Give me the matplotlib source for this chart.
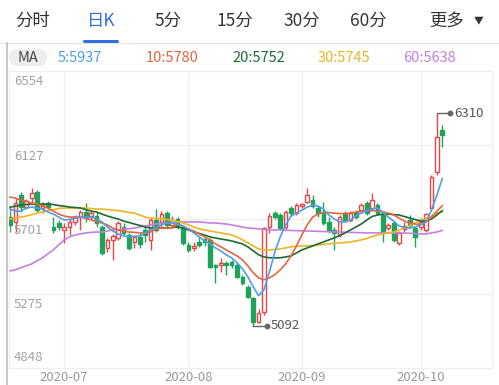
import numpy as np
import pandas as pd
import matplotlib
matplotlib.use("Agg")
import matplotlib.pyplot as plt
from matplotlib.patches import FancyBboxPatch
from matplotlib.transforms import blended_transform_factory

plt.rcParams["font.family"] = ["Noto Sans CJK SC", "DejaVu Sans"]

# ---- data ----
holidays = ["2020-06-25", "2020-06-26", "2020-10-01", "2020-10-02", "2020-10-05",
            "2020-10-06", "2020-10-07", "2020-10-08"]
dates = pd.bdate_range("2020-06-15", "2020-10-15")
dates = dates[~dates.isin(pd.to_datetime(holidays))]

opens = [5717, 5687, 5841, 5772, 5824, 5858, 5767, 5795, 5658, 5681,
         5641, 5658, 5687, 5715, 5744, 5721, 5721, 5658, 5538, 5584,
         5595, 5658, 5612, 5572, 5601, 5641, 5584, 5698, 5687, 5738,
         5670, 5704, 5658, 5555, 5538, 5572, 5589, 5584, 5441, 5441,
         5452, 5458, 5441, 5372, 5315, 5252, 5115, 5172, 5658, 5738,
         5727, 5658, 5767, 5738, 5778, 5801, 5812, 5767, 5744, 5687,
         5641, 5612, 5738, 5698, 5744, 5755, 5795, 5767, 5784, 5727,
         5652, 5681, 5567, 5647, 5698, 5652, 5658, 5641, 5767, 5973, 6213]
highs = [5772, 5824, 5858, 5818, 5881, 5870, 5801, 5807, 5715, 5698,
         5681, 5709, 5727, 5755, 5795, 5755, 5744, 5670, 5595, 5618,
         5692, 5681, 5624, 5612, 5624, 5664, 5709, 5761, 5749, 5749,
         5721, 5715, 5670, 5572, 5572, 5601, 5595, 5595, 5446, 5481,
         5464, 5469, 5458, 5384, 5326, 5258, 5189, 5658, 5738, 5749,
         5738, 5755, 5778, 5795, 5795, 5881, 5841, 5778, 5801, 5715,
         5658, 5727, 5749, 5749, 5755, 5795, 5807, 5852, 5795, 5738,
         5681, 5692, 5635, 5687, 5727, 5658, 5709, 5738, 5955, 6310, 6241]
lows = [5629, 5629, 5744, 5761, 5784, 5744, 5738, 5761, 5624, 5641,
        5567, 5612, 5670, 5641, 5687, 5698, 5658, 5498, 5515, 5469,
        5584, 5612, 5526, 5538, 5538, 5572, 5526, 5629, 5658, 5652,
        5652, 5647, 5555, 5515, 5521, 5544, 5549, 5424, 5338, 5401,
        5384, 5424, 5366, 5326, 5252, 5092, 5109, 5155, 5624, 5704,
        5641, 5647, 5721, 5727, 5767, 5795, 5767, 5715, 5670, 5624,
        5526, 5601, 5687, 5687, 5704, 5738, 5727, 5755, 5727, 5572,
        5641, 5572, 5555, 5629, 5658, 5544, 5641, 5629, 5755, 5955, 6115]
closes = [5670, 5795, 5772, 5807, 5852, 5755, 5784, 5772, 5641, 5658,
          5658, 5687, 5715, 5744, 5709, 5738, 5681, 5509, 5584, 5607,
          5681, 5624, 5538, 5601, 5561, 5612, 5698, 5641, 5732, 5670,
          5698, 5658, 5567, 5526, 5549, 5555, 5572, 5429, 5429, 5452,
          5441, 5441, 5372, 5338, 5258, 5115, 5166, 5652, 5721, 5715,
          5652, 5744, 5738, 5784, 5790, 5841, 5778, 5738, 5681, 5641,
          5624, 5715, 5698, 5738, 5715, 5784, 5738, 5812, 5738, 5629,
          5670, 5584, 5624, 5664, 5670, 5601, 5687, 5732, 5944, 6173, 6184]

ma5 = [5761, 5749, 5749, 5767, 5772, 5767, 5761, 5744, 5732, 5715,
       5698, 5701, 5707, 5715, 5715, 5715, 5704, 5687, 5658, 5635,
       5618, 5607, 5601, 5604, 5607, 5624, 5641, 5655, 5670, 5681,
       5681, 5675, 5664, 5647, 5624, 5601, 5578, 5561, 5538, 5521,
       5498, 5481, 5452, 5418, 5372, 5315, 5263, 5298, 5401, 5515,
       5601, 5670, 5721, 5738, 5755, 5772, 5784, 5778, 5761, 5727,
       5704, 5687, 5687, 5698, 5721, 5738, 5752, 5761, 5767, 5744,
       5715, 5692, 5664, 5655, 5652, 5658, 5670, 5687, 5755, 5841, 5937]
ma10 = [5830, 5824, 5812, 5807, 5795, 5790, 5778, 5767, 5749, 5732,
        5721, 5715, 5715, 5715, 5709, 5698, 5689, 5681, 5670, 5652,
        5641, 5635, 5629, 5627, 5624, 5624, 5629, 5647, 5652, 5652,
        5655, 5675, 5664, 5647, 5635, 5618, 5601, 5584, 5561, 5544,
        5526, 5509, 5492, 5469, 5435, 5395, 5366, 5355, 5366, 5384,
        5412, 5446, 5492, 5549, 5612, 5670, 5715, 5732, 5741, 5741,
        5738, 5735, 5735, 5738, 5744, 5749, 5752, 5752, 5749, 5744,
        5738, 5727, 5709, 5692, 5681, 5675, 5672, 5687, 5715, 5749, 5780]
ma20 = [5772, 5778, 5784, 5787, 5790, 5790, 5790, 5790, 5787, 5781,
        5778, 5772, 5770, 5767, 5758, 5749, 5744, 5732, 5721, 5712,
        5704, 5692, 5684, 5675, 5667, 5658, 5652, 5652, 5652, 5652,
        5655, 5658, 5652, 5641, 5629, 5621, 5612, 5601, 5595, 5589,
        5584, 5578, 5569, 5561, 5544, 5521, 5498, 5486, 5481, 5481,
        5481, 5486, 5492, 5509, 5526, 5538, 5549, 5561, 5572, 5584,
        5595, 5609, 5624, 5641, 5658, 5675, 5698, 5718, 5727, 5732,
        5732, 5729, 5727, 5718, 5709, 5701, 5692, 5692, 5704, 5727, 5752]
ma30 = [5704, 5709, 5715, 5721, 5729, 5738, 5744, 5752, 5758, 5764,
        5767, 5767, 5767, 5767, 5767, 5764, 5761, 5761, 5758, 5755,
        5752, 5747, 5741, 5738, 5727, 5715, 5709, 5707, 5704, 5701,
        5695, 5689, 5681, 5670, 5658, 5647, 5641, 5635, 5629, 5624,
        5618, 5612, 5601, 5584, 5567, 5549, 5532, 5526, 5526, 5529,
        5532, 5538, 5544, 5547, 5549, 5549, 5552, 5555, 5558, 5561,
        5564, 5567, 5569, 5572, 5578, 5584, 5592, 5604, 5612, 5618,
        5624, 5629, 5641, 5652, 5667, 5681, 5698, 5707, 5721, 5738, 5745]
ma60 = [5406, 5412, 5424, 5435, 5446, 5464, 5481, 5504, 5527, 5555,
        5584, 5601, 5612, 5618, 5624, 5627, 5629, 5629, 5635, 5641,
        5641, 5647, 5647, 5652, 5658, 5664, 5670, 5675, 5678, 5681,
        5684, 5687, 5687, 5687, 5687, 5687, 5684, 5681, 5681, 5678,
        5675, 5670, 5664, 5658, 5652, 5650, 5647, 5644, 5641, 5641,
        5641, 5640, 5638, 5637, 5636, 5635, 5634, 5633, 5632, 5631,
        5630, 5629, 5628, 5627, 5626, 5625, 5624, 5624, 5624, 5624,
        5624, 5624, 5624, 5623, 5622, 5620, 5618, 5618, 5624, 5629, 5638]

ma_names = ["5", "10", "20", "30", "60"]
ma_colors = ["#4f9fe6", "#e8643f", "#1d6b34", "#efb51f", "#c57fe0"]
y_ticks = [4848, 5275, 5701, 6127, 6554]
tabs = ["分时", "日K", "5分", "15分", "30分", "60分", "更多"]

UP, DOWN = "#e2474c", "#1fa25a"

# ---- figure ----
W, H = 499, 385
fig = plt.figure(figsize=(W / 100, H / 100), dpi=100)

# pixel overlay for the header
ov = fig.add_axes([0, 0, 1, 1], zorder=0)
ov.set_xlim(0, W); ov.set_ylim(H, 0); ov.axis("off")

tab_x = [33, 101, 168, 235, 302, 368, 447]
for t, x in zip(tabs, tab_x):
    ov.text(x, 21, t, ha="center", va="center", fontsize=12.5,
            color="#2f6fdf" if t == "日K" else "#333333")
ov.text(479, 20, "▼", ha="center", va="center", fontsize=7, color="#333333")
ov.plot([84, 117], [40.5, 40.5], color="#2f6fdf", lw=2.2, solid_capstyle="round")
ov.plot([0, W], [42.5, 42.5], color="#e6e6e6", lw=0.8)
ov.plot([7, 7], [43, H], color="#bdbdbd", lw=1.2)

ov.add_patch(FancyBboxPatch((9, 49), 38, 17, boxstyle="round,pad=0,rounding_size=8.5",
                            fc="#ededed", ec="none"))
ov.text(28, 57.5, "MA", ha="center", va="center", fontsize=10.5, color="#444444")
last = [ma5[-1], ma10[-1], ma20[-1], ma30[-1], ma60[-1]]
for name, val, col, x in zip(ma_names, last, ma_colors, [58, 146, 232, 318, 403]):
    ov.text(x, 57.5, f"{name}:{val}", ha="left", va="center", fontsize=10.5, color=col)

# ---- main chart ----
ax = fig.add_axes([8.5 / W, 1 - 368 / H, (492 - 8.5) / W, (368 - 71) / H], zorder=1)
ax.set_facecolor("none")
idx = np.arange(len(dates))
ax.set_xlim(-0.3, 89.2)
ax.set_ylim(y_ticks[0], y_ticks[-1])

months = pd.Series(idx, index=dates).groupby(dates.to_period("M")).first()
month_pos = months.values[1:]
month_lab = [d.strftime("%Y-%m") for d in months.index.to_timestamp()[1:]]
for p in month_pos:
    ax.axvline(p, color="#efefef", lw=0.9, zorder=0)
for v in y_ticks[1:-1]:
    ax.axhline(v, color="#efefef", lw=0.9, zorder=0)
for s in ax.spines.values():
    s.set_color("#efefef"); s.set_linewidth(0.9)
ax.set_xticks([]); ax.set_yticks([])

# y labels sit just under their grid line (bottom one just above)
tr = blended_transform_factory(ax.transAxes, ax.transData)
for v in y_ticks:
    bottom = v == y_ticks[0]
    ax.annotate(str(v), (0.011, v), xycoords=tr, xytext=(0, 3 if bottom else -3),
                textcoords="offset points", fontsize=9.5, color="#a3a3a3", ha="left",
                va="bottom" if bottom else "top")
for p, lab in zip(month_pos, month_lab):
    ax.annotate(lab, (p, y_ticks[0]), xytext=(0, -6.5), textcoords="offset points",
                ha="center", va="center", fontsize=9.5, color="#9a9a9a", annotation_clip=False)

# candles
o, h, l, c = map(np.array, (opens, highs, lows, closes))
up = c >= o
for i in idx:
    col = UP if up[i] else DOWN
    ax.vlines(i, l[i], h[i], color=col, lw=1, zorder=2)
    lo, hi = min(o[i], c[i]), max(o[i], c[i])
    ax.bar(i, max(hi - lo, 3), bottom=lo, width=0.68, zorder=3,
           facecolor="white" if up[i] else col, edgecolor=col, linewidth=1)

# moving averages
for series, col in zip([ma60, ma30, ma20, ma10, ma5], ma_colors[::-1]):
    ax.plot(idx, series, color=col, lw=1.2, zorder=4)

# high / low markers
ih, il = int(np.argmax(h)), int(np.argmin(l))
for i, v in [(ih, h[ih]), (il, l[il])]:
    ax.plot([i, i + 2.5], [v, v], color="#666666", lw=1, zorder=5)
    ax.plot(i + 2.5, v, "o", color="#666666", ms=3.2, zorder=5)
    ax.annotate(str(v), (i + 2.5, v), xytext=(3, 0), textcoords="offset points",
                ha="left", va="center", fontsize=9.5, color="#555555")

fig.savefig("out.png", dpi=100)
